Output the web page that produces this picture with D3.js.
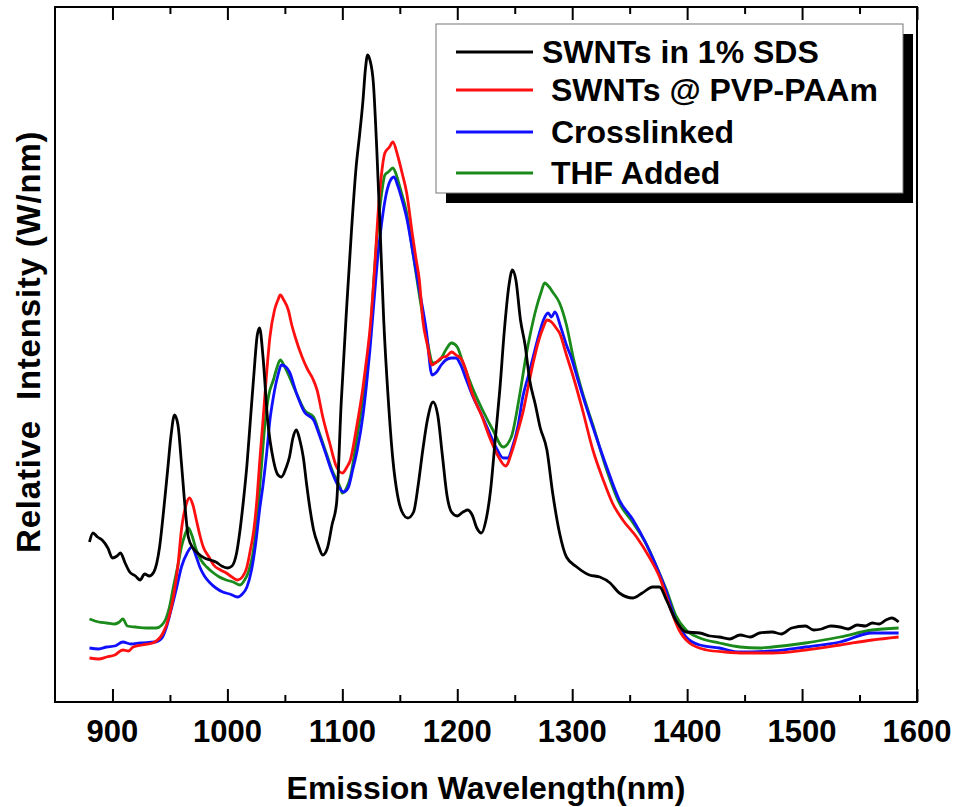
<!DOCTYPE html>
<html>
<head>
<meta charset="utf-8">
<script src="https://cdn.jsdelivr.net/npm/d3@7"></script>
<style>
body { margin: 0; background: #fff; }
text { font-family: "Liberation Sans", Arial, sans-serif; font-weight: bold; fill: #000; }
</style>
</head>
<body>
<svg id="chart" width="958" height="807"></svg>
<script>
//data: [wavelength nm, relative intensity]//
var sdsData = [
 [880,16.0],[883,16.9],[887,16.5],[891,16.2],[896,15.4],[900,14.4],[904,14.6],[907,14.9],[911,13.9],[915,13.0],
 [920,12.6],[924,12.2],[928,12.8],[932,12.6],[936,13.0],[941,15.5],[945,19.7],[948,23.2],[951,26.7],[954,28.7],
 [957,27.7],[960,23.9],[963,19.7],[966,16.5],[970,15.4],[974,14.9],[980,14.4],[985,14.2],[990,14.0],[995,13.6],
 [1000,13.4],[1004,13.6],[1008,14.9],[1011,17.2],[1014,20.2],[1017,23.7],[1020,28.2],[1023,32.7],[1026,36.7],[1028,37.4],
 [1031,34.5],[1035,28.2],[1040,24.2],[1044,22.7],[1047,22.5],[1051,23.4],[1054,24.5],[1057,26.4],[1060,27.2],[1063,26.2],
 [1066,24.5],[1069,21.7],[1072,19.2],[1075,17.2],[1079,15.7],[1083,14.7],[1087,15.4],[1091,17.7],[1095,19.9],[1099,29.9],
 [1104,39.9],[1108,47.2],[1112,53.5],[1115,56.7],[1118,60.2],[1120,63.2],[1122,64.7],[1124,64.2],[1127,61.9],[1130,55.2],
 [1133,46.9],[1136,38.2],[1140,30.2],[1144,24.2],[1148,20.7],[1152,19.0],[1157,18.4],[1162,19.0],[1166,21.7],[1170,25.2],
 [1174,28.2],[1179,30.0],[1183,28.7],[1187,24.7],[1191,20.7],[1195,19.0],[1200,18.6],[1205,19.0],[1209,19.2],[1213,18.7],
 [1217,17.4],[1221,16.9],[1225,18.2],[1229,21.2],[1233,26.2],[1237,31.2],[1241,37.2],[1245,41.7],[1248,43.2],[1251,42.2],
 [1255,38.2],[1259,35.7],[1263,32.2],[1268,29.7],[1272,27.5],[1278,25.2],[1283,20.9],[1289,16.9],[1295,14.5],[1304,13.5],
 [1315,12.7],[1324,12.5],[1333,11.9],[1341,10.9],[1353,10.4],[1361,10.9],[1370,11.5],[1376,11.5],[1382,10.2],[1390,8.2],
 [1399,7.0],[1411,6.9],[1420,6.6],[1428,6.5],[1437,6.3],[1446,6.7],[1455,6.5],[1463,6.9],[1474,7.0],[1482,6.8],[1491,7.4],
 [1503,7.6],[1510,7.2],[1517,7.3],[1525,7.6],[1533,7.5],[1540,7.3],[1548,7.7],[1555,7.6],[1561,7.9],[1567,7.8],[1573,8.2],
 [1578,8.4],[1584,8.0]
];

var pvpData = [
 [880,4.4],[888,4.3],[895,4.5],[902,4.7],[909,5.2],[914,5.1],[918,5.5],[926,5.7],[935,5.9],[944,6.9],
 [949,8.4],[953,10.5],[957,13.7],[960,17.2],[964,19.7],[967,20.4],[970,19.7],[973,18.2],[976,16.7],[979,15.5],
 [984,14.5],[988,13.7],[994,13.2],[999,12.9],[1004,12.5],[1009,12.2],[1013,12.5],[1017,13.5],[1020,15.2],[1023,17.2],
 [1026,20.7],[1028,23.9],[1031,28.2],[1034,32.7],[1037,36.5],[1041,39.2],[1044,40.2],[1046,40.7],[1049,40.2],[1053,39.2],
 [1056,37.7],[1059,36.5],[1065,34.5],[1070,33.2],[1074,32.4],[1078,31.2],[1083,28.5],[1089,25.9],[1095,23.5],[1100,22.9],
 [1104,23.5],[1107,24.2],[1112,27.2],[1118,31.5],[1121,34.2],[1124,37.2],[1128,43.2],[1131,48.7],[1134,52.7],[1137,54.9],
 [1141,55.5],[1144,56.0],[1148,54.7],[1152,52.9],[1156,50.9],[1161,46.7],[1164,44.4],[1167,42.2],[1170,38.2],[1174,35.7],
 [1178,33.7],[1182,34.0],[1186,34.4],[1191,34.6],[1195,35.0],[1199,34.7],[1204,34.2],[1208,33.0],[1212,31.2],[1217,29.7],
 [1221,28.7],[1228,26.5],[1235,24.7],[1242,23.6],[1248,25.2],[1253,27.2],[1257,28.9],[1262,31.7],[1266,33.9],[1271,36.2],
 [1275,37.5],[1278,38.2],[1282,38.0],[1286,37.4],[1289,36.9],[1295,34.7],[1301,32.5],[1309,29.2],[1318,25.2],[1327,22.2],
 [1335,19.9],[1344,18.2],[1356,16.5],[1367,14.5],[1376,12.5],[1385,9.5],[1393,7.2],[1402,5.9],[1417,5.2],[1433,5.0],
 [1450,4.9],[1474,4.9],[1503,5.2],[1533,5.7],[1561,6.2],[1584,6.5]
];

var crossData = [
 [880,5.4],[888,5.3],[895,5.5],[902,5.6],[909,6.0],[916,5.8],[924,5.9],[937,6.0],[943,6.4],[947,7.5],
 [951,9.2],[956,11.5],[960,13.5],[965,14.9],[969,15.5],[973,14.5],[976,13.5],[980,12.6],[985,11.9],[990,11.4],
 [996,11.0],[1002,10.8],[1009,10.5],[1013,10.8],[1017,11.5],[1021,13.2],[1025,16.2],[1028,19.2],[1031,21.7],[1034,24.7],
 [1037,28.2],[1040,30.5],[1044,32.7],[1047,33.7],[1051,33.5],[1054,33.0],[1060,30.9],[1067,29.0],[1075,28.2],[1080,26.7],
 [1086,24.7],[1091,23.0],[1097,21.5],[1101,21.0],[1105,21.4],[1109,23.2],[1113,25.2],[1118,28.7],[1121,31.7],[1124,35.2],
 [1128,40.7],[1131,44.7],[1134,47.7],[1138,50.7],[1142,52.2],[1145,52.5],[1148,51.7],[1152,50.2],[1156,48.4],[1161,45.2],
 [1167,41.2],[1173,37.2],[1178,32.7],[1182,33.0],[1186,33.7],[1190,34.2],[1195,34.4],[1199,34.4],[1203,33.7],[1207,32.5],
 [1213,30.7],[1220,29.0],[1227,27.2],[1234,25.4],[1240,24.4],[1244,24.4],[1248,25.5],[1253,27.7],[1257,30.5],[1262,32.7],
 [1266,34.5],[1271,36.7],[1275,38.2],[1279,38.9],[1282,38.5],[1285,39.0],[1290,37.5],[1295,35.7],[1299,34.5],[1305,32.2],
 [1309,30.7],[1318,27.5],[1330,23.5],[1341,20.2],[1353,18.2],[1364,15.9],[1372,13.9],[1382,11.0],[1390,8.2],[1399,6.5],
 [1411,5.7],[1428,5.4],[1446,5.0],[1474,5.1],[1503,5.5],[1533,6.0],[1561,6.9],[1584,6.9]
];

var thfData = [
 [880,8.3],[888,8.0],[895,7.9],[902,7.8],[906,8.0],[909,8.3],[913,7.6],[920,7.5],[930,7.4],[938,7.4],
 [943,7.7],[946,8.2],[950,9.7],[953,11.5],[957,13.7],[960,15.5],[963,16.7],[966,17.4],[969,16.7],[973,15.2],
 [977,14.2],[982,13.5],[988,12.9],[993,12.5],[999,12.2],[1005,12.0],[1011,11.7],[1015,12.2],[1018,12.9],[1022,14.7],
 [1025,17.2],[1029,22.7],[1033,28.2],[1036,30.7],[1040,32.2],[1043,33.4],[1046,34.2],[1050,33.5],[1054,32.5],[1060,30.9],
 [1067,29.2],[1075,28.5],[1080,26.9],[1086,24.9],[1091,23.2],[1098,21.5],[1100,20.9],[1104,21.5],[1107,22.5],[1112,25.9],
 [1118,30.5],[1121,33.2],[1124,36.5],[1128,43.2],[1131,47.7],[1134,50.7],[1137,52.7],[1140,53.0],[1144,53.4],[1147,52.7],
 [1150,51.5],[1156,48.9],[1161,45.2],[1167,40.7],[1173,36.7],[1179,33.9],[1185,34.2],[1190,35.2],[1195,35.9],[1200,35.5],
 [1205,33.9],[1214,31.2],[1222,29.2],[1231,27.2],[1240,25.5],[1247,26.5],[1254,30.5],[1260,34.7],[1263,36.5],[1269,39.5],
 [1273,41.0],[1276,41.9],[1280,41.5],[1283,41.0],[1289,39.9],[1295,37.7],[1301,34.4],[1309,30.9],[1318,27.7],[1330,23.2],
 [1341,19.9],[1353,17.9],[1364,15.9],[1372,13.9],[1382,11.2],[1390,8.7],[1399,7.2],[1411,6.4],[1428,5.9],[1446,5.5],
 [1463,5.4],[1474,5.5],[1503,5.9],[1533,6.5],[1561,7.2],[1584,7.4]
];

var seriesNames = ["SWNTs in 1% SDS", " SWNTs @ PVP-PAAm", " Crosslinked", " THF Added"];
var seriesColors = ["#000000", "#ff1010", "#1010ff", "#1a8a1a"];
var xTicks = [900, 1000, 1100, 1200, 1300, 1400, 1500, 1600];

//layout//
var margins = {top: 7, right: 41, bottom: 105, left: 55};
var width = 958 - margins.left - margins.right;
var height = 807 - margins.top - margins.bottom;

var svg = d3.select("#chart");

var xScale = d3.scaleLinear()
               .domain([850, 1600])
               .range([margins.left, margins.left + width]);

var yScale = d3.scaleLinear()
               .domain([0, 69.5])
               .range([margins.top + height, margins.top]);

var line = d3.line()
             .x(function(d) { return xScale(d[0]); })
             .y(function(d) { return yScale(d[1]); })
             .curve(d3.curveMonotoneX);

//spectra//
var allData = [sdsData, pvpData, crossData, thfData];

svg.append("g")
   .attr("id", "lines")
   .selectAll("path")
   .data([3, 2, 1, 0])
   .enter()
   .append("path")
   .attr("d", function(i) { return line(allData[i]); })
   .style("fill", "none")
   .style("stroke", function(i) { return seriesColors[i]; })
   .style("stroke-width", 2.8)
   .style("stroke-linejoin", "round");

//axes, ticks point inward on top and bottom//
var bottomMajor = d3.axisTop(xScale).tickValues(xTicks).tickSize(13).tickFormat("");
var bottomMinor = d3.axisTop(xScale).tickValues(d3.range(950, 1600, 100)).tickSize(7).tickFormat("");
var topMajor = d3.axisBottom(xScale).tickValues(xTicks).tickSize(13).tickFormat("");
var topMinor = d3.axisBottom(xScale).tickValues(d3.range(950, 1600, 100)).tickSize(7).tickFormat("");

[[bottomMajor, margins.top + height], [bottomMinor, margins.top + height],
 [topMajor, margins.top], [topMinor, margins.top]].forEach(function(a)
   {
    var g = svg.append("g")
               .attr("transform", "translate(0," + a[1] + ")")
               .call(a[0]);
    g.select(".domain").remove();
    g.selectAll("line").style("stroke", "#000").style("stroke-width", 2);
   });

svg.append("rect")
   .attr("x", margins.left)
   .attr("y", margins.top)
   .attr("width", width)
   .attr("height", height)
   .style("fill", "none")
   .style("stroke", "#000")
   .style("stroke-width", 2);

svg.append("g")
   .selectAll("text")
   .data(xTicks)
   .enter()
   .append("text")
   .attr("x", function(d) { return xScale(d); })
   .attr("y", 742)
   .attr("text-anchor", "middle")
   .style("font-size", "31px")
   .text(function(d) { return d; });

svg.append("text")
   .attr("x", margins.left + width / 2)
   .attr("y", 799)
   .attr("text-anchor", "middle")
   .style("font-size", "32px")
   .text("Emission Wavelength(nm)");

svg.append("text")
   .attr("transform", "translate(40,553) rotate(-90)")
   .attr("text-anchor", "start")
   .style("font-size", "33px")
   .style("letter-spacing", "0.8px")
   .style("white-space", "pre")
   .text("Relative  Intensity (W/nm)");

//legend with drop shadow//
var legend = {x: 436, y: 24, w: 467, h: 169};

svg.append("rect")
   .attr("x", legend.x + 10)
   .attr("y", legend.y + 10)
   .attr("width", legend.w)
   .attr("height", legend.h)
   .style("fill", "#000");

svg.append("rect")
   .attr("x", legend.x)
   .attr("y", legend.y)
   .attr("width", legend.w)
   .attr("height", legend.h)
   .style("fill", "#fff")
   .style("stroke", "#777")
   .style("stroke-width", 1);

var rowY = [52, 90, 132, 173];

var rows = svg.append("g")
              .selectAll("g")
              .data(seriesNames)
              .enter()
              .append("g");

rows.append("line")
    .attr("x1", 456)
    .attr("x2", 533)
    .attr("y1", function(d, i) { return rowY[i]; })
    .attr("y2", function(d, i) { return rowY[i]; })
    .style("stroke", function(d, i) { return seriesColors[i]; })
    .style("stroke-width", 3);

rows.append("text")
    .attr("x", 542)
    .attr("y", function(d, i) { return rowY[i] + 11; })
    .style("font-size", "32px")
    .style("white-space", "pre")
    .text(function(d) { return d; });
</script>
</body>
</html>
